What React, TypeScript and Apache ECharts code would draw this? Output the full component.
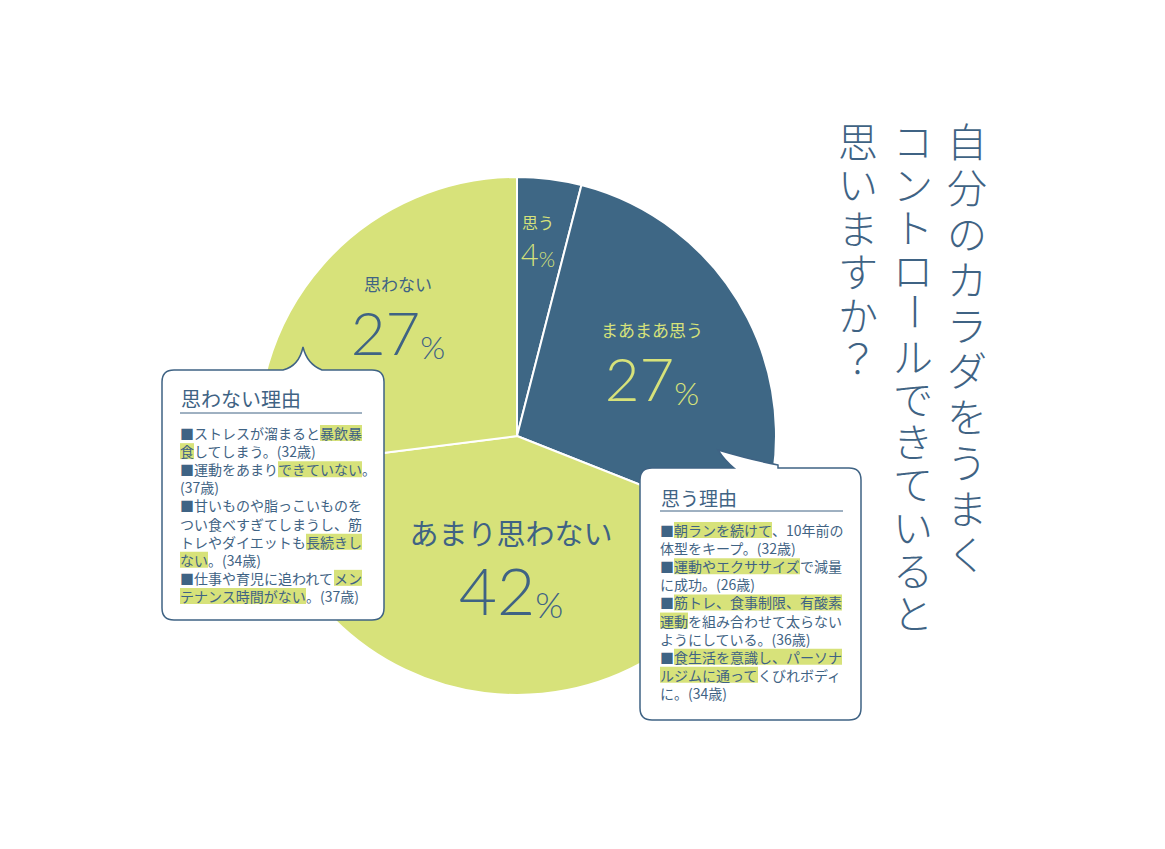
import React, { useEffect, useRef } from "react";
import * as echarts from "echarts";

// ---- data ----
const categories = ["思う", "まあまあ思う", "あまり思わない", "思わない"];
const values = [4, 27, 42, 27];
const titleColumns = ["自分のカラダをうまく", "コントロールできていると", "思いますか？"];
const noReasonTitle = "思わない理由";
const noReasonLines = [
  "■ストレスが溜まると[暴飲暴]",
  "[食]してしまう。(32歳)",
  "■運動をあまり[できていない]。",
  "(37歳)",
  "■甘いものや脂っこいものを",
  "つい食べすぎてしまうし、筋",
  "トレやダイエットも[長続きし]",
  "[ない]。(34歳)",
  "■仕事や育児に追われて[メン]",
  "[テナンス時間がない]。(37歳)",
];
const yesReasonTitle = "思う理由";
const yesReasonLines = [
  "■[朝ランを続けて]、10年前の",
  "体型をキープ。(32歳)",
  "■[運動やエクササイズ]で減量",
  "に成功。(26歳)",
  "■[筋トレ、食事制限、有酸素]",
  "[運動]を組み合わせて太らない",
  "ようにしている。(36歳)",
  "■[食生活を意識し、パーソナ]",
  "[ルジムに通って]くびれボディ",
  "に。(34歳)",
];

// ---- styles / layout ----
const BLUE = "#3e6785";
const GREEN = "#d7e27a";
const TEXT_BLUE = "#3f6384";
const JP = "'Noto Sans CJK JP', 'Noto Sans', sans-serif";
const JP_LIGHT = "'Noto Sans CJK JP Light', 'Noto Sans CJK JP', sans-serif";
const NUM = "Lato, 'Open Sans', sans-serif";
const sliceColors = [BLUE, BLUE, GREEN, GREEN];
const labelColors = [GREEN, GREEN, TEXT_BLUE, TEXT_BLUE];
const labelAnchors = [
  [538, 240],
  [652, 360],
  [511, 566],
  [398, 314],
];
const nameSize = [16, 17, 29, 17];
const nameLH = [22, 34, 44, 34];
const numSize = [31, 60, 66, 60];
const pctSize = [21, 32, 36, 32];
const numLH = [36, 62, 68, 62];

const titleX = [967, 913, 858];
const titleTop = 140;
const titleStep = [45.9, 42.9, 43.4];
const titleFont = 40;

const dLeft =
  "M174 370 L283 370 Q299 366 303 347 Q307 364 322 370 L372 370 Q384 370 384 382 L384 608 Q384 620 372 620 L174 620 Q162 620 162 608 L162 382 Q162 370 174 370 Z";
const dRight =
  "M652 468 L734 468 Q725 461 718 450 Q752 460 778 465 L778 468 L849 468 Q861 468 861 480 L861 708 Q861 720 849 720 L652 720 Q640 720 640 708 L640 480 Q640 468 652 468 Z";

echarts.graphic.registerShape("calloutLeft", echarts.graphic.extendPath(dLeft, {}));
echarts.graphic.registerShape("calloutRight", echarts.graphic.extendPath(dRight, {}));

function toRich(line: string): string {
  return line
    .split(/(\[[^\]]+\])/)
    .filter((s) => s.length > 0)
    .map((s) => (s.startsWith("[") ? `{h|${s.slice(1, -1)}}` : `{n|${s}}`))
    .join("");
}

function bodyText(lines: string[], x: number, y: number) {
  return {
    type: "text",
    z: 20,
    x,
    y,
    style: {
      text: lines.map(toRich).join("\n"),
      align: "left",
      verticalAlign: "top",
      rich: {
        n: { fontSize: 14, fontFamily: JP, fill: TEXT_BLUE, lineHeight: 18.1 },
        h: {
          fontSize: 14,
          fontFamily: JP,
          fill: TEXT_BLUE,
          lineHeight: 18.1,
          backgroundColor: GREEN,
          height: 16,
        },
      },
    },
  };
}

function titleElements() {
  const els: any[] = [];
  titleColumns.forEach((col, ci) => {
    const chars = Array.from(col);
    const step = titleStep[ci];
    let segStart = 0;
    let seg: string[] = [];
    const flush = () => {
      if (seg.length === 0) return;
      els.push({
        type: "text",
        z: 20,
        x: titleX[ci],
        y: titleTop + segStart * step - step / 2,
        style: {
          text: seg.join("\n"),
          fontSize: titleFont,
          fontWeight: 300,
          fontFamily: JP_LIGHT,
          fill: TEXT_BLUE,
          lineHeight: step,
          align: "center",
          verticalAlign: "top",
        },
      });
      seg = [];
    };
    chars.forEach((ch, i) => {
      if (ch === "ー") {
        flush();
        els.push({
          type: "text",
          z: 20,
          x: titleX[ci],
          y: titleTop + i * step,
          rotation: Math.PI / 2,
          style: {
            text: ch,
            fontSize: titleFont,
            fontWeight: 300,
            fontFamily: JP_LIGHT,
            fill: TEXT_BLUE,
            align: "center",
            verticalAlign: "middle",
          },
        });
        segStart = i + 1;
      } else {
        if (seg.length === 0) segStart = i;
        seg.push(ch);
      }
    });
    flush();
  });
  return els;
}

export default function App() {
  const ref = useRef<HTMLDivElement>(null);
  useEffect(() => {
    if (!ref.current) return;
    const chart = echarts.init(ref.current, null, { renderer: "svg" });

    chart.setOption({
      animation: false,
      backgroundColor: "#ffffff",
      series: [
        {
          type: "pie",
          center: [517, 436],
          radius: 259,
          startAngle: 90,
          clockwise: true,
          silent: true,
          avoidLabelOverlap: false,
          itemStyle: { borderColor: "#ffffff", borderWidth: 2 },
          labelLine: { show: false },
          label: {
            show: true,
            position: "inside",
            formatter: (p: any) => `{name|${p.name}}\n{num|${p.value}}{pct|%}`,
          },
          labelLayout: (p: any) => {
            const a = labelAnchors[p.dataIndex];
            return { x: a[0], y: a[1], align: "center", verticalAlign: "middle" };
          },
          data: categories.map((name, i) => ({
            name,
            value: values[i],
            itemStyle: { color: sliceColors[i] },
            label: {
              rich: {
                name: {
                  fontFamily: JP,
                  fontSize: nameSize[i],
                  color: labelColors[i],
                  lineHeight: nameLH[i],
                },
                num: {
                  fontFamily: NUM,
                  fontWeight: 300,
                  fontSize: numSize[i],
                  color: labelColors[i],
                  lineHeight: numLH[i],
                  verticalAlign: "bottom",
                },
                pct: {
                  fontFamily: NUM,
                  fontWeight: 300,
                  fontSize: pctSize[i],
                  color: labelColors[i],
                  lineHeight: numLH[i],
                  verticalAlign: "bottom",
                },
              },
            },
          })),
        },
      ],
      graphic: [
        {
          type: "calloutLeft",
          z: 10,
          style: { fill: "#ffffff", stroke: TEXT_BLUE, lineWidth: 1.5 },
        },
        {
          type: "calloutRight",
          z: 10,
          style: { fill: "#ffffff", stroke: TEXT_BLUE, lineWidth: 1.5 },
        },
        {
          type: "text",
          z: 20,
          x: 181,
          y: 398,
          style: {
            text: noReasonTitle,
            fontSize: 20,
            fontFamily: JP,
            fill: TEXT_BLUE,
            align: "left",
            verticalAlign: "middle",
          },
        },
        {
          type: "line",
          z: 20,
          shape: { x1: 180, y1: 413, x2: 362, y2: 413 },
          style: { stroke: TEXT_BLUE, lineWidth: 1 },
        },
        bodyText(noReasonLines, 180, 424),
        {
          type: "text",
          z: 20,
          x: 661,
          y: 497,
          style: {
            text: yesReasonTitle,
            fontSize: 19,
            fontFamily: JP,
            fill: TEXT_BLUE,
            align: "left",
            verticalAlign: "middle",
          },
        },
        {
          type: "line",
          z: 20,
          shape: { x1: 660, y1: 511, x2: 843, y2: 511 },
          style: { stroke: TEXT_BLUE, lineWidth: 1 },
        },
        bodyText(yesReasonLines, 660, 521),
        ...titleElements(),
      ],
    });
    return () => chart.dispose();
  }, []);
  return (
    <div
      ref={ref}
      style={{ position: "fixed", left: 0, top: 0, width: 1165, height: 849, background: "#fff" }}
    />
  );
}
